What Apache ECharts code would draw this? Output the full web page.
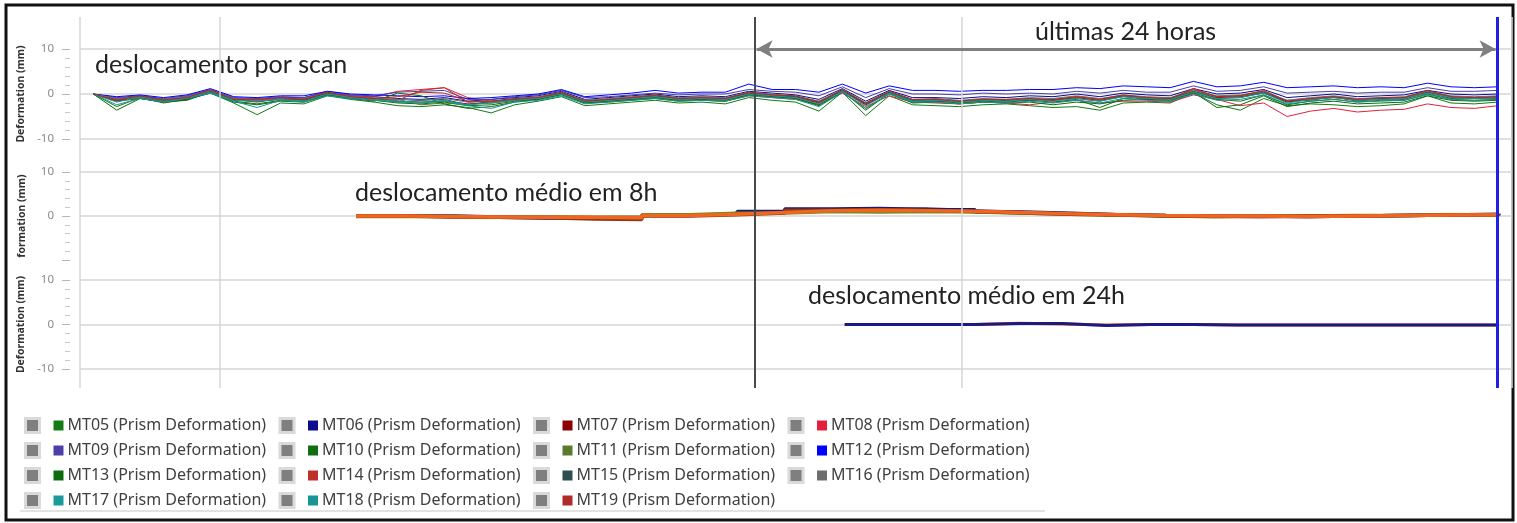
<!DOCTYPE html>
<html>
<head>
<meta charset="utf-8">
<script src="https://cdn.jsdelivr.net/npm/echarts@6/dist/echarts.min.js"></script>
<style>
  html, body { margin: 0; padding: 0; background: #fff; }
  #chart { width: 1517px; height: 523px; }
</style>
</head>
<body>
<div id="chart"></div>
<script>
// time axis in hours (0 = first day boundary)
const xMin = -4.53;
const xMax = 41.78;
const dayLines = [0, 24];
const last24Start = 17.3;
const nowTime = 41.3;

// per-scan readings: start + regular scan step
const scanStart = -4.1;
const scanStep = 0.757;

const seriesNames = ['MT05', 'MT06', 'MT07', 'MT08', 'MT09', 'MT10', 'MT11', 'MT12',
  'MT13', 'MT14', 'MT15', 'MT16', 'MT17', 'MT18', 'MT19'];
const seriesColors = ['#147a14', '#0c0c8c', '#8b0000', '#e3203c', '#4b3fa8', '#0f6e0f', '#5b7a2c', '#0000ff',
  '#0d6b0d', '#c0302a', '#2f4f4f', '#6e6e6e', '#1a9a9a', '#189494', '#b02a2a'];

const mt05 = [0, -2.8, -0.8, -2.0, -1.2, 0.2, -2.0, -4.6, -2.0, -2.2,
  -0.4, -1.2, -1.8, -2.6, -2.8, -2.4, -3.0, -4.2, -2.4, -1.6,
  -0.6, -2.6, -2.2, -1.8, -1.4, -2.0, -1.8, -2.2, -0.8, -1.4,
  -1.8, -3.8, 0.4, -4.8, -0.4, -2.4, -2.6, -2.8, -2.4, -2.2,
  -2.6, -3.0, -2.8, -3.6, -2.0, -1.8, -2.0, 0.2, -2.4, -3.6,
  -1.0, -2.6, -2.2, -2.4, -2.8, -2.6, -2.2, -0.4, -2.0, -2.2,
  -1.8];
const mt06 = [0, -1.0, -0.4, -1.2, -0.6, 0.8, -1.0, -1.2, -0.8, -0.8,
  0.4, -0.4, -0.6, -1.0, -1.2, -0.8, -1.6, -1.2, -0.8, -0.4,
  0.6, -1.2, -0.8, -0.4, 0.0, -0.6, -0.4, -0.6, 0.6, 0.2,
  -0.2, -1.2, 1.2, -1.6, 0.8, -0.8, -0.8, -1.0, -0.6, -0.8,
  -0.4, -0.6, 0.0, -0.6, 0.2, -0.2, -0.4, 1.2, 0.0, 0.2,
  1.0, -0.8, -0.4, 0.0, -0.6, -0.4, -0.2, 0.8, 0.0, -0.2,
  0.0];
const mt07 = [0, -1.4, -0.8, -1.6, -1.0, 0.4, -1.4, -1.6, -1.2, -1.4,
  0.0, -0.8, -1.2, -1.6, -1.8, -1.6, -2.2, -2.0, -1.4, -1.0,
  0.0, -1.8, -1.4, -1.0, -0.6, -1.2, -1.0, -1.2, 0.0, -0.4,
  -0.8, -2.0, 0.6, -2.4, 0.2, -1.6, -1.4, -1.8, -1.4, -1.6,
  -1.2, -1.4, -0.8, -1.4, -0.6, -1.0, -1.2, 0.4, -0.8, -0.6,
  0.2, -1.8, -1.2, -0.8, -1.4, -1.2, -1.0, 0.2, -0.8, -1.0,
  -0.8];
const mt08 = [0, -1.0, -0.6, -1.2, -0.6, 0.4, -1.0, -1.2, -0.8, -1.0,
  0.2, -0.4, -0.6, 0.6, 1.0, 1.4, -0.8, -1.6, -1.4, -1.0,
  0.0, -1.8, -1.6, -1.2, -0.8, -1.4, -1.4, -1.6, -0.4, -0.8,
  -1.2, -2.2, 0.2, -2.8, -0.4, -1.8, -2.0, -2.2, -1.8, -2.0,
  -2.4, -1.8, -1.4, -2.0, -1.6, -1.6, -1.8, -0.2, -1.2, -2.6,
  -2.0, -5.0, -3.8, -3.2, -4.0, -3.6, -3.4, -2.2, -3.0, -3.2,
  -2.6];
const mt09 = [0, -0.8, -0.4, -1.0, -0.4, 1.0, -0.8, -1.0, -0.6, -0.8,
  0.6, -0.2, -0.4, 0.4, 0.6, 0.8, -1.2, -1.2, -0.6, -0.2,
  0.8, -0.8, -0.6, -0.2, 0.2, -0.2, 0.0, 0.0, 1.0, 0.6,
  0.4, -0.4, 1.6, -0.8, 1.2, 0.0, 0.0, -0.2, 0.2, 0.0,
  0.2, 0.0, 0.6, 0.2, 0.8, 0.4, 0.4, 1.8, 0.6, 0.8,
  1.6, 0.2, 0.4, 0.6, 0.2, 0.4, 0.4, 1.4, 0.6, 0.6,
  0.8];
const mt10 = [0, -1.6, -1.0, -1.8, -1.2, 0.2, -1.6, -2.2, -1.4, -1.6,
  -0.2, -1.0, -1.4, -2.0, -2.2, -1.8, -2.6, -2.4, -1.6, -1.2,
  -0.2, -2.0, -1.6, -1.2, -0.8, -1.4, -1.2, -1.4, -0.2, -0.6,
  -1.0, -2.6, 0.4, -3.2, 0.0, -1.8, -1.6, -2.0, -1.6, -1.8,
  -1.4, -1.8, -1.2, -3.0, -1.0, -1.2, -1.4, 0.2, -1.2, -1.6,
  -0.2, -2.4, -1.6, -1.2, -1.8, -1.4, -1.4, 0.0, -1.2, -1.4,
  -1.2];
const mt11 = [0, -1.2, -0.4, -1.4, -0.8, 0.6, -1.2, -1.2, -1.0, -1.2,
  0.2, -0.6, -1.0, -1.2, -2.4, -2.0, -2.4, -1.8, -1.2, -0.8,
  0.2, -1.4, -1.2, -0.8, -0.4, -1.0, -0.8, -1.0, 0.2, -0.2,
  -0.6, -1.6, 0.8, -2.0, 0.4, -1.4, -1.2, -1.6, -1.2, -1.4,
  -1.0, -1.2, -0.6, -1.2, -0.4, -0.8, -1.0, 0.6, -0.6, -0.4,
  0.4, -1.4, -1.0, -0.6, -1.2, -1.0, -0.8, 0.4, -0.6, -0.8,
  -0.6];
const mt12 = [0, -0.6, -0.2, -0.8, -0.2, 1.2, -0.6, -0.8, -0.4, -0.4,
  0.6, 0.0, -0.2, -0.4, -0.6, -0.4, -1.0, -0.8, -0.4, 0.0,
  1.0, -0.6, -0.2, 0.2, 0.8, 0.2, 0.4, 0.4, 2.2, 1.0,
  1.0, 0.4, 2.2, 0.2, 1.8, 0.8, 0.8, 0.6, 0.8, 0.8,
  1.0, 1.0, 1.4, 1.2, 1.8, 1.6, 1.4, 2.8, 1.6, 1.8,
  2.6, 1.4, 1.6, 1.8, 1.4, 1.6, 1.4, 2.4, 1.6, 1.4,
  1.6];
const mt13 = [0, -3.6, -1.0, -1.8, -1.4, 0.4, -1.8, -2.4, -1.6, -1.8,
  -0.2, -1.0, -1.6, 0.2, -0.4, -2.2, -3.2, -2.8, -1.8, -1.2,
  0.0, -2.0, -1.8, -1.4, -1.0, -1.6, -1.4, -1.6, -0.2, -0.6,
  -1.0, -2.4, 0.6, -3.6, 0.2, -2.0, -1.8, -2.2, -1.8, -2.0,
  -1.8, -2.4, -1.8, -2.2, -1.4, -1.2, -1.6, 0.4, -3.0, -2.4,
  -0.4, -2.8, -2.0, -1.6, -2.2, -2.0, -1.8, -0.4, -1.4, -1.6,
  -1.4];
const mt14 = [0, -1.2, -0.6, -1.4, -0.8, 0.6, -1.2, -1.4, -1.0, -1.2,
  0.2, -0.6, -1.0, -1.4, 0.8, 1.4, -1.8, -1.6, -1.2, -0.8,
  0.2, -1.6, -1.2, -0.8, -0.4, -1.0, -0.8, -1.0, 0.2, -0.2,
  -0.6, -1.8, 0.8, -2.2, 0.4, -1.4, -1.2, -1.6, -1.2, -1.4,
  -1.0, -1.2, -0.6, -1.2, -0.4, -0.8, -1.0, 1.2, -0.6, -0.4,
  0.6, -1.6, -1.0, -0.6, -1.2, -1.0, -0.8, 0.6, -0.6, -0.8,
  -0.6];
const mt15 = [0, -1.6, -0.6, -1.2, -1.2, 0.6, -1.2, -1.8, -1.0, -1.2,
  0.2, -1.0, -1.0, -1.8, -1.4, -1.2, -2.4, -1.6, -1.2, -1.2,
  0.2, -1.6, -1.2, -1.2, -0.4, -1.0, -1.2, -1.0, 0.2, -0.6,
  -0.6, -1.8, 0.8, -2.2, 0.4, -1.4, -1.6, -1.6, -1.2, -1.4,
  -1.4, -1.2, -1.0, -1.6, -0.4, -1.2, -1.0, 0.6, -1.0, -0.8,
  0.4, -1.6, -1.4, -0.6, -1.6, -1.0, -1.2, 0.4, -1.0, -0.8,
  -1.0];
const mt16 = [0, -1.0, -0.8, -1.2, -0.6, 0.8, -1.0, -1.2, -1.0, -1.0,
  0.4, -0.6, -0.8, -1.2, -1.4, -1.0, -1.8, -1.6, -1.0, -0.6,
  0.4, -1.4, -1.0, -0.6, -0.2, -0.8, -0.6, -0.8, 0.4, 0.0,
  -0.4, -1.6, 1.0, -2.0, 0.6, -1.2, -1.0, -1.4, -1.0, -1.2,
  -0.8, -1.0, -0.4, -1.0, -0.2, -0.6, -0.8, 0.8, -0.4, -0.2,
  0.6, -1.4, -0.8, -0.4, -1.0, -0.8, -0.6, 0.6, -0.4, -0.6,
  -0.4];
const mt17 = [0, -1.8, -0.6, -1.6, -0.8, 0.4, -1.4, -1.6, -1.2, -1.6,
  0.0, -0.8, -1.2, -1.6, -1.8, -1.4, -2.4, -2.0, -1.4, -1.0,
  0.0, -1.8, -1.4, -1.0, -0.6, -1.2, -1.0, -1.2, 0.0, -0.4,
  -0.8, -2.2, 0.6, -2.6, 0.2, -1.6, -1.4, -1.8, -1.4, -1.6,
  -1.2, -1.6, -1.0, -1.6, -0.6, -1.0, -1.2, 0.4, -1.0, -0.8,
  0.2, -2.0, -1.2, -0.8, -1.4, -1.2, -1.0, 0.2, -0.8, -1.0,
  -0.8];
const mt18 = [0, -2.4, -1.0, -1.8, -1.0, 0.2, -1.6, -3.0, -1.4, -1.8,
  -0.4, -1.0, -1.4, -1.8, -2.0, -1.6, -2.6, -3.2, -1.8, -1.4,
  -0.4, -2.2, -1.8, -1.4, -1.0, -1.6, -1.4, -1.6, -0.4, -0.8,
  -1.2, -2.8, 0.4, -3.2, 0.0, -1.8, -1.8, -2.2, -1.8, -2.0,
  -1.6, -2.0, -1.4, -2.0, -1.0, -1.4, -1.6, 0.0, -1.4, -1.2,
  -0.2, -2.2, -1.6, -1.2, -1.8, -1.6, -1.4, -0.2, -1.2, -1.4,
  -1.2];
const mt19 = [0, -1.4, -0.4, -1.4, -0.8, 1.0, -1.2, -1.2, -0.8, -1.2,
  0.4, -0.6, -1.0, -0.6, 0.4, 0.2, -1.6, -1.6, -1.0, -0.8,
  0.4, -1.6, -1.2, -0.8, -0.2, -1.0, -0.8, -1.0, 0.4, -0.2,
  -0.4, -1.8, 1.0, -2.0, 0.6, -1.2, -1.2, -1.6, -1.2, -1.2,
  -1.0, -1.4, -0.6, -1.2, -0.2, -0.8, -1.0, 1.0, -0.6, -0.4,
  0.8, -1.6, -1.0, -0.6, -1.2, -0.8, -0.8, 0.8, -0.6, -0.8,
  -0.6];
const scanValues = [mt05, mt06, mt07, mt08, mt09, mt10, mt11, mt12,
  mt13, mt14, mt15, mt16, mt17, mt18, mt19];

// 8h moving average (step)
const avg8Start = 4.4;
const avg8Step = 1.54;
const avg8Colors = ['#5a3fa0', '#1a1a70', '#6b8e23', '#8b3a1a', '#f2651c'];
const avg8Purple = [0.0, -0.1, -0.3, -0.5, -0.4, -0.3, 0.2, 0.4, 0.9, 1.4, 1.5, 1.6, 1.2, 0.8, 0.5, 0.3, 0.1, 0.0, -0.1, -0.1, 0.0, 0.1, 0.2, 0.3, 0.5];
const avg8Navy = [0.0, 0.0, -0.2, -0.3, -0.4, -0.5, 0.1, 0.5, 1.0, 1.6, 1.7, 1.5, 1.4, 0.9, 0.6, 0.3, 0.1, 0.0, 0.0, -0.1, 0.0, 0.1, 0.2, 0.4, 0.5];
const avg8Green = [-0.1, -0.1, -0.2, -0.2, -0.3, -0.2, 0.3, 0.6, 0.7, 1.0, 0.9, 1.0, 0.9, 0.7, 0.4, 0.2, 0.0, -0.1, 0.0, 0.0, 0.1, 0.1, 0.2, 0.3, 0.4];
const avg8Brown = [0.0, -0.2, -0.3, -0.4, -0.7, -0.8, 0.0, 0.3, 0.7, 1.3, 1.4, 1.3, 1.0, 0.7, 0.4, 0.2, 0.0, -0.1, -0.1, 0.0, 0.0, 0.1, 0.2, 0.3, 0.5];
const avg8Orange = [0.0, -0.1, -0.2, -0.3, -0.3, -0.4, 0.1, 0.4, 0.8, 1.2, 1.3, 1.2, 1.1, 0.8, 0.5, 0.3, 0.1, 0.0, 0.0, -0.1, 0.0, 0.1, 0.2, 0.3, 0.4];
const avg8Values = [avg8Purple, avg8Navy, avg8Green, avg8Brown, avg8Orange];

// 24h moving average (step)
const avg24Start = 20.2;
const avg24Step = 1.41;
const avg24Colors = ['#f2651c', '#1a1a80'];
const avg24Orange = [0.0, 0.0, 0.0, 0.3, 0.1, -0.1, 0.0, 0.0, -0.1, -0.1, -0.1, -0.1, -0.1, -0.1, -0.1, -0.1];
const avg24Navy = [0.0, 0.0, 0.0, 0.2, 0.2, -0.2, 0.0, 0.0, -0.1, -0.1, -0.1, -0.1, -0.1, -0.1, -0.1, -0.1];
const avg24Values = [avg24Orange, avg24Navy];

const yTicks = { min: -10, max: 10, interval: 10 };

const chart = echarts.init(document.getElementById('chart'), null, { renderer: 'canvas' });

const panels = [
  { top: 49, height: 90, name: 'Deformation (mm)' },
  { top: 172, height: 88, name: 'formation (mm)' },
  { top: 280, height: 89, name: 'Deformation (mm)' }
];

const grids = panels.map(p => ({ left: 80, right: 5, top: p.top, height: p.height }));
grids.push({ left: 80, right: 5, top: 17, height: 371 });

const xAxes = grids.map((g, i) => ({
  type: 'value', gridIndex: i, min: xMin, max: xMax, show: false
}));

const yAxes = panels.map((p, i) => ({
  type: 'value', gridIndex: i,
  min: yTicks.min, max: yTicks.max, interval: yTicks.interval,
  offset: 10,
  name: p.name, nameLocation: 'middle', nameGap: 42, nameRotate: 90,
  nameTextStyle: { fontFamily: 'Noto Sans', fontSize: 10.5, fontWeight: 'bold', color: '#333' },
  axisLine: { show: false, onZero: false },
  axisTick: { show: true, length: 8, lineStyle: { color: '#b5b5b5' } },
  minorTick: { show: true, splitNumber: 5, length: 5, lineStyle: { color: '#c8c8c8' } },
  axisLabel: {
    margin: 16, color: '#8a8a8a', fontFamily: 'Noto Sans', fontSize: 11.5,
    showMinLabel: i !== 1
  },
  splitLine: { show: true, showMinLine: i !== 1, lineStyle: { color: '#d6d6d6', width: 1.5 } }
}));
yAxes.push({ type: 'value', gridIndex: 3, min: 0, max: 1, show: false });

const series = [];

// overlay vertical lines (light)
series.push({
  type: 'line', xAxisIndex: 3, yAxisIndex: 3, data: [], silent: true, z: 1,
  markLine: {
    silent: true, symbol: 'none', label: { show: false },
    lineStyle: { color: '#d6d6d6', width: 1.5, type: 'solid' },
    data: [{ xAxis: xMin }, { xAxis: xMax }].concat(dayLines.map(d => ({ xAxis: d })))
  }
});

seriesNames.forEach((n, k) => {
  series.push({
    name: n + ' (Prism Deformation)', type: 'line', xAxisIndex: 0, yAxisIndex: 0,
    showSymbol: false, symbol: 'none', color: seriesColors[k],
    lineStyle: { width: 1, color: seriesColors[k] },
    data: scanValues[k].map((v, i) => [scanStart + i * scanStep, v])
  });
});

avg8Values.forEach((vals, k) => {
  series.push({
    name: 'avg8_' + k, type: 'line', xAxisIndex: 1, yAxisIndex: 1, step: 'end',
    showSymbol: false, symbol: 'none',
    lineStyle: { width: 3.5, color: avg8Colors[k] },
    data: vals.map((v, i) => [avg8Start + i * avg8Step, v])
  });
});

avg24Values.forEach((vals, k) => {
  series.push({
    name: 'avg24_' + k, type: 'line', xAxisIndex: 2, yAxisIndex: 2, step: 'end',
    showSymbol: false, symbol: 'none',
    lineStyle: { width: 3, color: avg24Colors[k] },
    data: vals.map((v, i) => [avg24Start + i * avg24Step, v])
  });
});

// "últimas 24 horas" arrow
series.push({
  type: 'line', xAxisIndex: 0, yAxisIndex: 0, data: [], silent: true, z: 6,
  markLine: {
    silent: true, symbol: ['arrow', 'arrow'], symbolSize: [13, 16],
    label: { show: false },
    lineStyle: { color: '#808080', width: 3, type: 'solid' },
    data: [[{ coord: [last24Start + 0.05, 10] }, { coord: [nowTime - 0.05, 10] }]]
  }
});

// marker lines on top (start of last 24h and now)
series.push({
  type: 'line', xAxisIndex: 3, yAxisIndex: 3, data: [], silent: true, z: 8,
  markLine: {
    silent: true, symbol: 'none', label: { show: false },
    data: [
      { xAxis: last24Start, lineStyle: { color: '#4a4a4a', width: 2, type: 'solid' } },
      { xAxis: nowTime, lineStyle: { color: '#1f1fe6', width: 3, type: 'solid' } }
    ]
  }
});

const rich = {
  g: { width: 9, lineHeight: 16 },
  g2: { width: 4, lineHeight: 16 },
  n: { width: 203, fontFamily: 'Noto Sans', fontSize: 16, lineHeight: 16, color: '#404040' }
};
seriesColors.forEach((c, k) => {
  rich['sq' + k] = { width: 10, height: 10, lineHeight: 16, backgroundColor: c };
});

const legendNames = seriesNames.map(n => n + ' (Prism Deformation)');

const textFont = '25px Lato';

chart.setOption({
  animation: false,
  backgroundColor: '#fff',
  grid: grids,
  xAxis: xAxes,
  yAxis: yAxes,
  legend: {
    left: 24, top: 417, width: 1030, orient: 'horizontal', padding: 0,
    itemWidth: 14, itemHeight: 14, itemGap: 8,
    selectedMode: false,
    data: legendNames.map(n => ({
      name: n, icon: 'rect',
      itemStyle: { color: '#7f7f7f', borderColor: '#dadada', borderWidth: 3 }
    })),
    formatter: name => {
      const k = legendNames.indexOf(name);
      return '{g|}{sq' + k + '|}{g2|}{n|' + name + '}';
    },
    textStyle: { fontSize: 16, lineHeight: 16, rich: rich }
  },
  graphic: [
    { type: 'rect', silent: true, shape: { x: 6, y: 5, width: 1507, height: 515 },
      style: { fill: 'none', stroke: '#111', lineWidth: 3 } },
    { type: 'line', silent: true, shape: { x1: 20, y1: 511, x2: 1045, y2: 511 },
      style: { stroke: '#d8d8d8', lineWidth: 1.5 } },
    { type: 'text', left: 95, top: 52, style: { text: 'deslocamento por scan', font: textFont, fill: '#222' } },
    { type: 'text', left: 1035, top: 19, style: { text: 'últimas 24 horas', font: textFont, fill: '#222' } },
    { type: 'text', left: 355, top: 180, style: { text: 'deslocamento médio em 8h', font: textFont, fill: '#222' } },
    { type: 'text', left: 808, top: 283, style: { text: 'deslocamento médio em 24h', font: textFont, fill: '#222' } }
  ],
  series: series
});

window.addEventListener('resize', () => chart.resize());
</script>
</body>
</html>
